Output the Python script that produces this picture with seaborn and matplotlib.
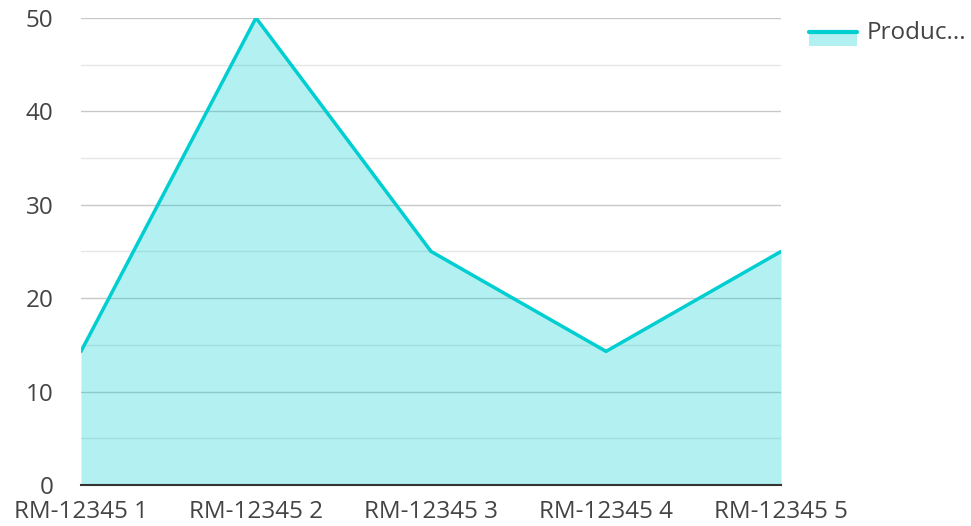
import numpy as np
import pandas as pd
import matplotlib
matplotlib.use("Agg")
import matplotlib.pyplot as plt
import seaborn as sns
from matplotlib.lines import Line2D
from matplotlib.patches import Patch, Rectangle
from matplotlib.legend_handler import HandlerBase
from matplotlib.ticker import MultipleLocator

# ==================================================
# DATA
# ==================================================
categories = ["RM-12345 1", "RM-12345 2", "RM-12345 3", "RM-12345 4", "RM-12345 5"]
values = [14.3, 50, 25, 14.3, 25]
series_name = "Produc..."

LINE = "#00CED1"
TEXT = "#444444"


# legend key: line on top of a filled band
class AreaHandler(HandlerBase):
    def create_artists(self, legend, orig_handle, xdescent, ydescent,
                       width, height, fontsize, trans):
        top = height * 0.45
        rect = Rectangle((-xdescent, top - 10), width, 10,
                         facecolor=LINE, alpha=0.3, linewidth=0, transform=trans)
        line = Line2D([-xdescent, -xdescent + width], [top, top],
                      color=LINE, linewidth=3, transform=trans)
        return [rect, line]


# ==================================================
# STYLING
# ==================================================
sns.set_theme(style="white")
plt.rcParams["font.family"] = ["Open Sans", "DejaVu Sans"]

df = pd.DataFrame({"category": categories, "value": values})
df["pos"] = np.arange(len(df))

fig = plt.figure(figsize=(9.71, 5.26), dpi=100)
ax = fig.add_axes([0.0834, 0.078, 0.721, 0.888])

ax.fill_between(df["pos"], df["value"], 0, color=LINE, alpha=0.3, linewidth=0, zorder=2)
sns.lineplot(data=df, x="pos", y="value", color=LINE, linewidth=2.5, ax=ax, zorder=3)

ax.set_xlim(0, len(df) - 1)
ax.set_ylim(0, 50)
ax.set_xticks(df["pos"])
ax.set_xticklabels(categories)
ax.yaxis.set_major_locator(MultipleLocator(10))
ax.yaxis.set_minor_locator(MultipleLocator(5))

ax.grid(axis="y", which="major", color="#c8c8c8", linewidth=1, zorder=1)
ax.grid(axis="y", which="minor", color="#e6e6e6", linewidth=1, zorder=1)
ax.set_axisbelow(True)

for side in ["top", "right", "left"]:
    ax.spines[side].set_visible(False)
ax.spines["bottom"].set_color("#333333")
ax.spines["bottom"].set_linewidth(1.5)
ax.spines["bottom"].set_zorder(4)

ax.tick_params(axis="both", which="both", length=0, labelsize=17.5, labelcolor=TEXT)
ax.tick_params(axis="y", pad=20)
ax.tick_params(axis="x", pad=11)
ax.set_xlabel("")
ax.set_ylabel("")

ax.legend(
    [Patch()], [series_name],
    handler_map={Patch: AreaHandler()},
    loc="upper left", bbox_to_anchor=(1.008, 1.04),
    frameon=False, fontsize=17.5, labelcolor=TEXT,
    handlelength=2.0, handleheight=0.6, handletextpad=0.38
)

fig.savefig("out.png", dpi=100)
